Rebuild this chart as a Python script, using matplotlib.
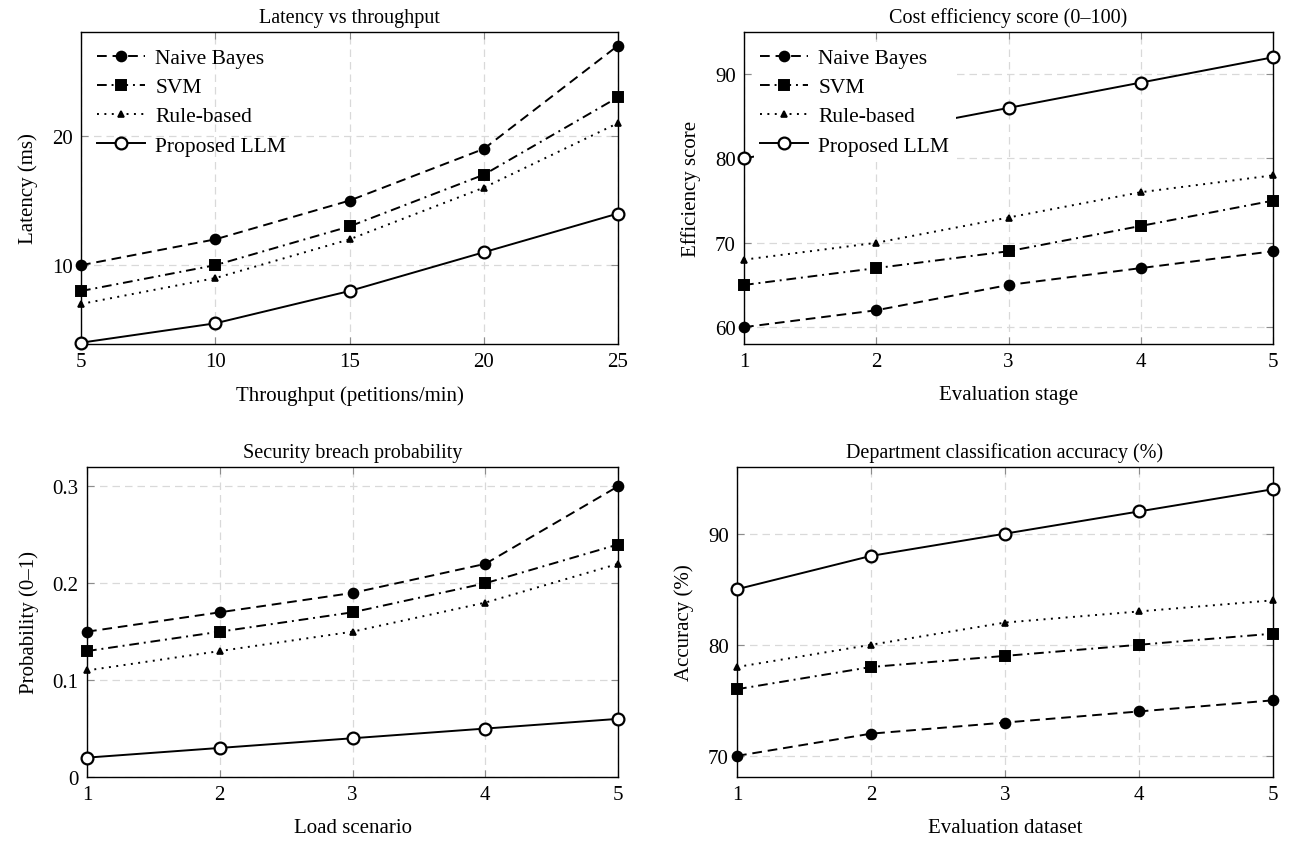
import matplotlib.pyplot as plt
from matplotlib.lines import Line2D

plt.rcParams["font.family"] = ["Liberation Serif", "DejaVu Serif"]
plt.rcParams["font.size"] = 15

# データ
series_names = ["Naive Bayes", "SVM", "Rule-based", "Proposed LLM"]

# 1) Latency vs throughput
thr_x = [5, 10, 15, 20, 25]
lat_nb = [10, 12, 15, 19, 27]
lat_svm = [8, 10, 13, 17, 23]
lat_rule = [7, 9, 12, 16, 21]
lat_llm = [4, 5.5, 8, 11, 14]

# 2) Cost efficiency
stage_x = [1, 2, 3, 4, 5]
eff_nb = [60, 62, 65, 67, 69]
eff_svm = [65, 67, 69, 72, 75]
eff_rule = [68, 70, 73, 76, 78]
eff_llm = [80, 83, 86, 89, 92]

# 3) Security breach probability
load_x = [1, 2, 3, 4, 5]
sec_nb = [0.15, 0.17, 0.19, 0.22, 0.30]
sec_svm = [0.13, 0.15, 0.17, 0.20, 0.24]
sec_rule = [0.11, 0.13, 0.15, 0.18, 0.22]
sec_llm = [0.02, 0.03, 0.04, 0.05, 0.06]

# 4) Department classification accuracy
ds_x = [1, 2, 3, 4, 5]
acc_nb = [70, 72, 73, 74, 75]
acc_svm = [76, 78, 79, 80, 81]
acc_rule = [78, 80, 82, 83, 84]
acc_llm = [85, 88, 90, 92, 94]

# スタイル（pgfplots風）
LW = 1.4
styles = [
    dict(ls=(0, (5, 3)), marker="o", ms=7, mfc="black", mew=1.4),
    dict(ls=(0, (5, 2.5, 1, 2.5)), marker="s", ms=6.5, mfc="black", mew=1.4),
    dict(ls=(0, (1, 2.8)), marker="^", ms=5, mfc="black", mew=1.2),
    dict(ls="-", marker="o", ms=8.5, mfc="white", mew=1.6),
]


def draw_panel(ax, x, ys, title, xlabel, ylabel, yticks, ylim, legend=True, legend_bg=False):
    for y, st in zip(ys, styles):
        ax.plot(x, y, color="black", lw=LW, linestyle=st["ls"], marker=st["marker"],
                ms=st["ms"], mfc=st["mfc"], mec="black", mew=st["mew"],
                zorder=4, clip_on=False)
    ax.set_xlim(x[0], x[-1])
    ax.set_ylim(*ylim)
    ax.set_xticks(x)
    ax.set_yticks(yticks)
    ax.set_yticklabels([f"{v:g}" for v in yticks])
    ax.set_title(title, fontsize=14.5, pad=7)
    ax.set_xlabel(xlabel, fontsize=15, labelpad=10)
    ax.set_ylabel(ylabel, fontsize=15, labelpad=10)
    ax.grid(True, color="#d9d9d9", linestyle=(0, (6, 4)), linewidth=0.9, zorder=0)
    ax.tick_params(direction="in", length=5, width=0.8, color="0.55",
                   top=True, right=True, labelsize=15, pad=6)
    for sp in ax.spines.values():
        sp.set_linewidth(1.0)
    if not legend:
        return
    handles = [Line2D([], [], color="black", lw=LW, linestyle=st["ls"], marker=st["marker"],
                      ms=st["ms"], mfc=st["mfc"], mec="black", mew=st["mew"]) for st in styles]
    leg = ax.legend(handles, series_names, loc="upper left", frameon=legend_bg,
                    handlelength=2.2, handletextpad=0.5, labelspacing=0.42,
                    borderaxespad=0.45, borderpad=0.3, fontsize=15.5)
    if legend_bg:
        fr = leg.get_frame()
        fr.set_facecolor("white")
        fr.set_edgecolor("none")
        fr.set_alpha(1.0)
        fr.set_boxstyle("square", pad=0)
    leg.set_zorder(10)


fig = plt.figure(figsize=(12.89, 8.45), dpi=100)
W, H = 1289, 845


def frac(l, r, t, b):
    return [l / W, (H - b) / H, (r - l) / W, (b - t) / H]


ax1 = fig.add_axes(frac(81, 618, 33, 345))
ax2 = fig.add_axes(frac(744, 1273, 33, 345))
ax3 = fig.add_axes(frac(87, 618, 468, 778))
ax4 = fig.add_axes(frac(737, 1273, 468, 778))

draw_panel(ax1, thr_x, [lat_nb, lat_svm, lat_rule, lat_llm], "Latency vs throughput",
           "Throughput (petitions/min)", "Latency (ms)", [10, 20], (3.9, 28.05))
draw_panel(ax2, stage_x, [eff_nb, eff_svm, eff_rule, eff_llm], "Cost efficiency score (0\u2013100)",
           "Evaluation stage", "Efficiency score", [60, 70, 80, 90], (58, 95), legend_bg=True)
draw_panel(ax3, load_x, [sec_nb, sec_svm, sec_rule, sec_llm], "Security breach probability",
           "Load scenario", "Probability (0\u20131)", [0, 0.1, 0.2, 0.3], (0, 0.32), legend=False)
draw_panel(ax4, ds_x, [acc_nb, acc_svm, acc_rule, acc_llm], "Department classification accuracy (%)",
           "Evaluation dataset", "Accuracy (%)", [70, 80, 90], (68.1, 96), legend=False)

fig.savefig("out.png", dpi=100)
